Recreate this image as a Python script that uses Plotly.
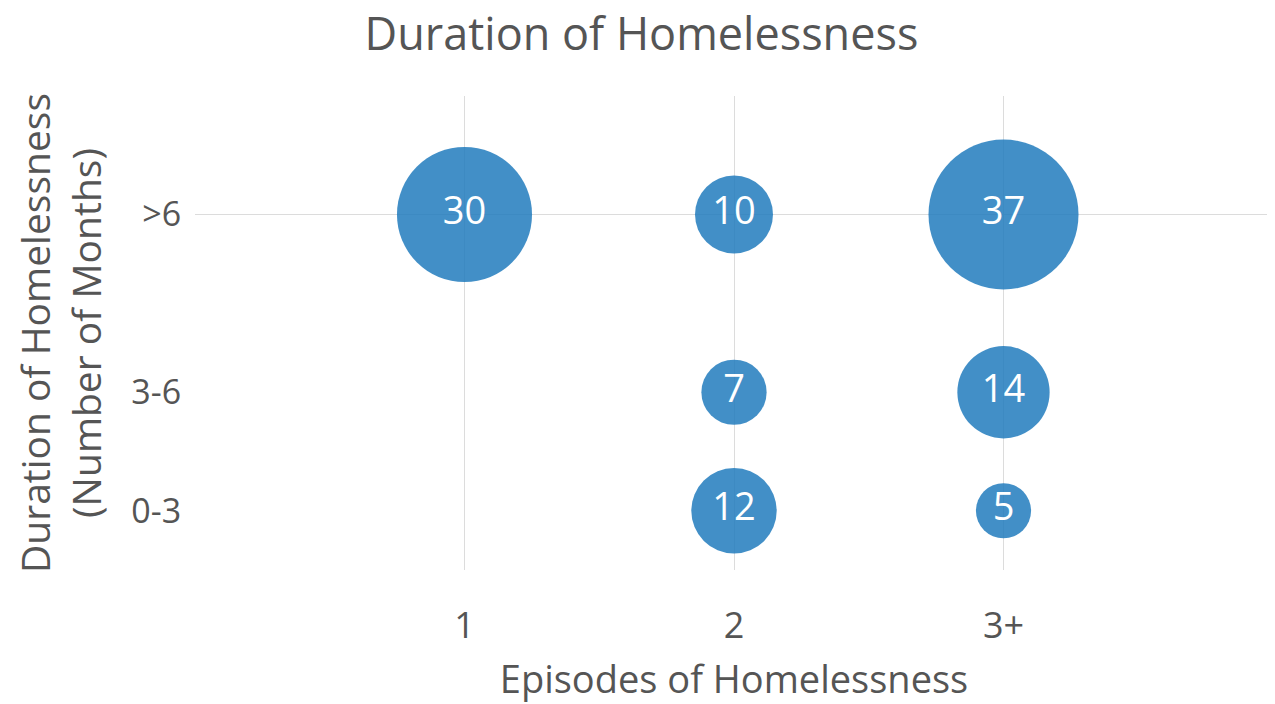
import plotly.graph_objects as go

# Data
episodes = [1, 2, 3, 2, 3, 2, 3]
duration = [9, 9, 9, 4.5, 4.5, 1.5, 1.5]
counts = [30, 10, 37, 7, 14, 12, 5]

x_tickvals = [1, 2, 3]
x_ticktext = ["1", "2", "3+"]
y_tickvals = [1.5, 4.5, 9]
y_ticktext = ["0-3", "3-6", ">6"]
y_grid_at = [9]  # only the ">6" row carries a horizontal gridline

FONT = "Open Sans"
GREY = "#555555"
GRID = "#dcdcdc"

fig = go.Figure(
    go.Scatter(
        x=episodes,
        y=duration,
        mode="markers+text",
        text=[str(c) for c in counts],
        textposition="middle center",
        textfont=dict(family=FONT, size=38, color="white"),
        marker=dict(
            size=counts,
            sizemode="area",
            sizeref=2 * 37 / 150 ** 2,
            color="rgb(35,125,190)",
            opacity=0.86,
            line=dict(width=0),
        ),
        hoverinfo="skip",
    )
)

for yv in y_grid_at:
    fig.add_shape(
        type="line", xref="paper", x0=0, x1=1, yref="y", y0=yv, y1=yv,
        line=dict(color=GRID, width=1), layer="below",
    )

# page has an 8px body margin, so the figure is sized to fit inside the window
fig.update_layout(
    width=1267,
    height=696,
    paper_bgcolor="white",
    plot_bgcolor="white",
    margin=dict(l=187, r=2, t=88, b=134),
    showlegend=False,
    font=dict(family=FONT, color=GREY),
    title=dict(
        text="Duration of Homelessness",
        x=0.5,
        xanchor="center",
        y=1 - 26 / 696,
        yanchor="middle",
        font=dict(family=FONT, size=45, color=GREY),
    ),
    xaxis=dict(
        range=[0, 4],
        tickvals=x_tickvals,
        ticktext=x_ticktext,
        tickfont=dict(size=36, color=GREY),
        showgrid=True,
        gridcolor=GRID,
        zeroline=False,
        showline=False,
        ticks="outside",
        ticklen=24,
        tickcolor="rgba(0,0,0,0)",
        automargin=False,
        title=dict(text="Episodes of Homelessness", font=dict(size=38, color=GREY), standoff=19),
    ),
    yaxis=dict(
        range=[0, 12],
        tickvals=y_tickvals,
        ticktext=y_ticktext,
        tickfont=dict(size=34, color=GREY),
        showgrid=False,
        zeroline=False,
        showline=False,
        ticks="outside",
        ticklen=6,
        tickcolor="rgba(0,0,0,0)",
        automargin=False,
        title=dict(text="Duration of Homelessness<br>(Number of Months)", font=dict(size=39, color=GREY), standoff=44),
    ),
)

fig.write_html("out.html")
